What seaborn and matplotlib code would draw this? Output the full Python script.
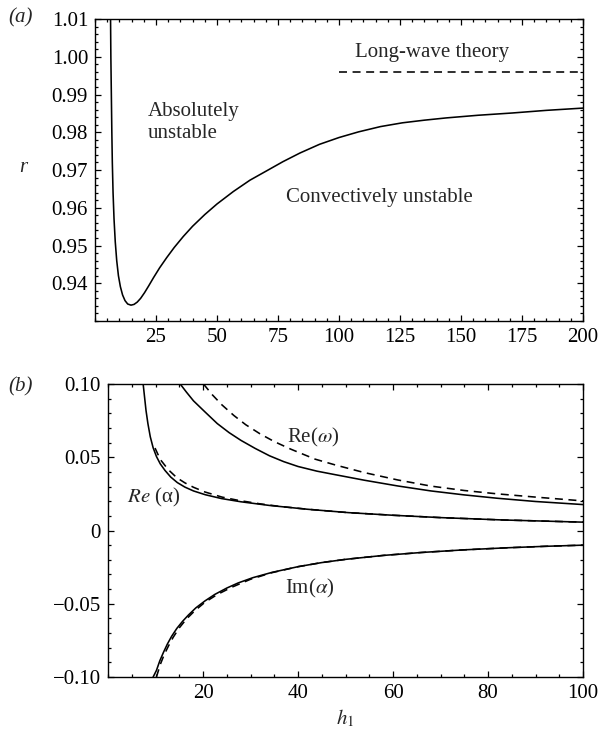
import numpy as np
import pandas as pd
import matplotlib
matplotlib.use("Agg")
import matplotlib.pyplot as plt
from matplotlib.ticker import MultipleLocator, FixedLocator
import seaborn as sns

# ---------------- data ----------------
# panel (a): boundary between absolute and convective instability
h_a = [6.35, 6.5, 6.7, 6.9, 7.1, 7.4, 7.8, 8.3, 8.9, 9.6, 10.4, 11.3, 12.3, 13.4, 14.75,
       16.0, 17.3, 18.7, 20.3, 22.0, 24.0, 26.5, 29.4, 32.5, 36.2, 40.0, 45.0, 50.0,
       56.7, 63.5, 70.4, 77.0, 84.0, 92.0, 100.0, 108.0, 117.0, 126.0, 135.0, 144.0,
       157.0, 171.0, 185.0, 200.0]
r_a = [1.012, 1.000, 0.990, 0.980, 0.972, 0.964, 0.957, 0.951, 0.946, 0.9420, 0.9391,
       0.9369, 0.9354, 0.9345, 0.9342, 0.9344, 0.9350, 0.9360, 0.9375, 0.9393, 0.9415,
       0.9441, 0.9468, 0.9495, 0.9524, 0.9551, 0.9582, 0.9610, 0.9643, 0.9673, 0.9698,
       0.9722, 0.9745, 0.9768, 0.9786, 0.9801, 0.9815, 0.9825, 0.9832, 0.9838, 0.9845,
       0.9851, 0.9858, 0.9864]
h_long = [100.0, 200.0]
r_long = [0.996, 0.996]

# panel (b)
h_rew = [15.2, 16.5, 18.0, 20.4, 23.0, 25.5, 28.0, 31.0, 34.0, 37.0, 40.0, 44.0, 48.0,
         54.0, 61.0, 68.0, 75.0, 82.0, 90.0, 100.0]
v_rew = [0.100, 0.0945, 0.0885, 0.0810, 0.0730, 0.0668, 0.0615, 0.0560, 0.0510, 0.0470,
         0.0437, 0.0405, 0.0380, 0.0343, 0.0304, 0.0270, 0.0243, 0.0220, 0.0198, 0.0177]
h_rew_lw = [20.1, 22.0, 24.0, 26.5, 29.0, 32.0, 35.0, 38.5, 43.6, 48.0, 54.0, 61.0, 68.0,
            75.0, 82.0, 90.0, 100.0]
v_rew_lw = [0.100, 0.0925, 0.0857, 0.0785, 0.0722, 0.0660, 0.0607, 0.0555, 0.0487,
            0.0446, 0.0395, 0.0345, 0.0303, 0.0273, 0.0250, 0.0228, 0.0202]

h_rea = [7.4, 7.7, 8.0, 8.4, 8.9, 9.5, 10.2, 11.0, 12.0, 13.2, 14.6, 16.2, 18.0, 20.5,
         23.9, 28.0, 34.0, 42.0, 50.6, 60.0, 70.0, 83.0, 100.0]
v_rea = [0.100, 0.091, 0.082, 0.073, 0.064, 0.0565, 0.0505, 0.0455, 0.0410, 0.0365,
         0.0327, 0.0296, 0.0270, 0.0244, 0.0218, 0.0196, 0.0171, 0.0145, 0.0122, 0.0104,
         0.0088, 0.0072, 0.0057]
h_rea_lw = [9.9, 11.0, 12.7, 14.5, 16.2, 18.0, 20.4, 24.0, 27.4, 32.0, 36.0, 42.0, 50.6,
            60.0, 70.0, 83.0, 100.0]
v_rea_lw = [0.0563, 0.0485, 0.0415, 0.0360, 0.0325, 0.0295, 0.0263, 0.0228, 0.0206,
            0.0182, 0.0165, 0.0145, 0.0122, 0.0104, 0.0088, 0.0072, 0.0057]

h_ima = [9.5, 10.2, 10.9, 11.7, 12.5, 13.4, 14.5, 15.7, 16.9, 18.5, 20.4, 22.5, 25.0,
         27.4, 30.5, 34.5, 40.0, 45.0, 50.0, 58.0, 66.0, 75.0, 84.0, 92.0, 100.0]
v_ima = [-0.100, -0.0955, -0.0890, -0.0830, -0.0775, -0.0722, -0.0668, -0.0620, -0.0578,
         -0.0528, -0.0481, -0.0436, -0.0393, -0.0358, -0.0322, -0.0286, -0.0247, -0.0219,
         -0.0197, -0.0170, -0.0150, -0.0132, -0.0118, -0.0108, -0.0100]
h_ima_lw = [10.2, 11.0, 11.8, 12.7, 13.7, 15.0, 16.5, 18.2, 20.4, 23.0, 26.0, 30.0, 34.5,
            40.0, 45.0, 50.0, 58.0, 66.0, 75.0, 84.0, 92.0, 100.0]
v_ima_lw = [-0.100, -0.0915, -0.0850, -0.0790, -0.0730, -0.0665, -0.0605, -0.0550,
            -0.0490, -0.0437, -0.0388, -0.0333, -0.0288, -0.0247, -0.0219, -0.0197,
            -0.0170, -0.0150, -0.0132, -0.0118, -0.0108, -0.0100]

xticks_a = [25, 50, 75, 100, 125, 150, 175, 200]
yticks_a = [0.94, 0.95, 0.96, 0.97, 0.98, 0.99, 1.00, 1.01]
xticks_b = [20, 40, 60, 80, 100]
yticks_b = [-0.10, -0.05, 0.0, 0.05, 0.10]
yticklabels_b = ["\u22120.10", "\u22120.05", "0", "0.05", "0.10"]

# ---------------- style ----------------
sns.set_theme(style="ticks")
plt.rcParams["font.family"] = ["Liberation Serif", "DejaVu Serif"]
plt.rcParams["mathtext.fontset"] = "stix"
FS = 15

fig = plt.figure(figsize=(5.99, 7.37), dpi=100)
ax1 = fig.add_axes([95 / 599, 1 - 321 / 737, 488 / 599, 302 / 737])
ax2 = fig.add_axes([108 / 599, 1 - 677 / 737, 475 / 599, 293 / 737])

LW = 1.15
DASH = (0, (5, 3.5))

def line(ax, x, y, dashed=False):
    sns.lineplot(x=x, y=y, ax=ax, color="black", lw=LW, estimator=None,
                 linestyle=DASH if dashed else "-")

# panel (a)
line(ax1, h_a, r_a)
line(ax1, h_long, r_long, dashed=True)
ax1.set_xlim(0, 200)
ax1.set_ylim(0.93, 1.01)
ax1.xaxis.set_major_locator(FixedLocator(xticks_a))
ax1.xaxis.set_minor_locator(MultipleLocator(5))
ax1.yaxis.set_major_locator(FixedLocator(yticks_a))
ax1.yaxis.set_minor_locator(MultipleLocator(0.002))
ax1.set_xticklabels([str(t) for t in xticks_a])
ax1.set_yticklabels(["%.2f" % t for t in yticks_a])
ax1.text(138.3, 1.0012, "Long-wave theory", fontsize=FS, ha="center", va="center")
ax1.text(21.7, 0.9826, "Absolutely\nunstable", fontsize=FS, ha="left", va="center",
         linespacing=1.25)
ax1.text(78.3, 0.9627, "Convectively unstable", fontsize=FS, ha="left", va="center")

# panel (b)
line(ax2, h_rew, v_rew)
line(ax2, h_rew_lw, v_rew_lw, dashed=True)
line(ax2, h_rea, v_rea)
line(ax2, h_rea_lw, v_rea_lw, dashed=True)
line(ax2, h_ima, v_ima)
line(ax2, h_ima_lw, v_ima_lw, dashed=True)
ax2.set_xlim(0, 100)
ax2.set_ylim(-0.10, 0.10)
ax2.xaxis.set_major_locator(FixedLocator(xticks_b))
ax2.xaxis.set_minor_locator(MultipleLocator(5))
ax2.yaxis.set_major_locator(FixedLocator(yticks_b))
ax2.yaxis.set_minor_locator(MultipleLocator(0.01))
ax2.set_xticklabels([str(t) for t in xticks_b])
ax2.set_yticklabels(yticklabels_b)
ax2.text(37.7, 0.0633, r"Re($\omega$)", fontsize=FS, ha="left", va="center")
ax2.text(4.0, 0.0224, "$\\mathit{Re}$ (\u03b1)", fontsize=FS, ha="left", va="center")
ax2.text(37.3, -0.0395, r"Im($\alpha$)", fontsize=FS, ha="left", va="center")

for ax in (ax1, ax2):
    ax.set_xlabel("")
    ax.set_ylabel("")
    for s in ax.spines.values():
        s.set_visible(True)
        s.set_linewidth(1.0)
        s.set_color("black")
    ax.tick_params(which="both", direction="in", top=True, right=True, colors="black",
                   labelsize=FS, width=0.9, pad=5)
    ax.tick_params(which="major", length=4)
    ax.tick_params(which="minor", length=2.2)
    ax.set_facecolor("white")
    if ax.get_legend():
        ax.get_legend().remove()

fig.text(20.5 / 599, 1 - 17.5 / 737, "(a)", fontsize=FS, ha="center", va="center",
         style="italic")
fig.text(20.5 / 599, 1 - 387 / 737, "(b)", fontsize=FS, ha="center", va="center",
         style="italic")
fig.text(23 / 599, 1 - 167 / 737, "r", fontsize=FS, ha="center", va="center",
         style="italic")
fig.text(345 / 599, 1 - 718 / 737, r"$h_1$", fontsize=FS, ha="center", va="center")

fig.savefig("out.png", dpi=100, facecolor="white")
